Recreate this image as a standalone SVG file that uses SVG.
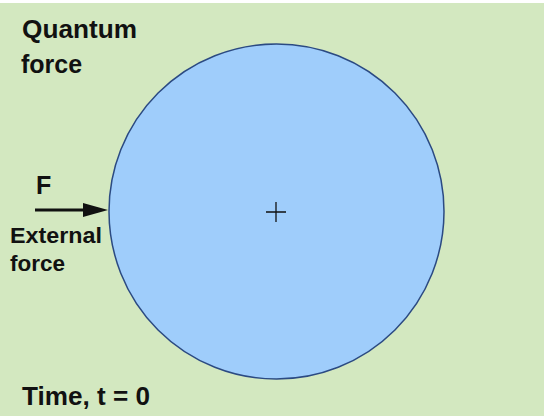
<svg xmlns="http://www.w3.org/2000/svg" width="545" height="416" viewBox="0 0 545 416">
<style>
text{font-family:"Liberation Sans",Arial,sans-serif;font-weight:bold;fill:#111}
.big{font-size:25px}
.small{font-size:22.5px}
</style>
<rect x="0" y="0" width="545" height="416" fill="#ffffff"/>
<rect x="0" y="3" width="544" height="413" fill="#d3e8c0"/>
<g id="particle">
<circle cx="276.5" cy="211.5" r="167.5" fill="#9fcdfb" stroke="#2b4a82" stroke-width="1.5"/>
<path d="M266,212 H286 M276,202 V222" stroke="#111" stroke-width="1.3"/>
</g>
<g id="connectors">
<path d="M35,210 H84" stroke="#111" stroke-width="3"/>
<path d="M83,203 L108,210 L83,217 Z" fill="#111"/>
</g>
<g id="labels">
<text class="big" x="22" y="38" textLength="115" lengthAdjust="spacingAndGlyphs">Quantum</text>
<text class="big" x="21" y="73">force</text>
<text class="big" x="36" y="194">F</text>
<text class="small" x="10" y="243" textLength="92" lengthAdjust="spacingAndGlyphs">External</text>
<text class="small" x="10" y="271">force</text>
<text class="big" x="22" y="405" textLength="128" lengthAdjust="spacingAndGlyphs">Time, t = 0</text>
</g>
</svg>
